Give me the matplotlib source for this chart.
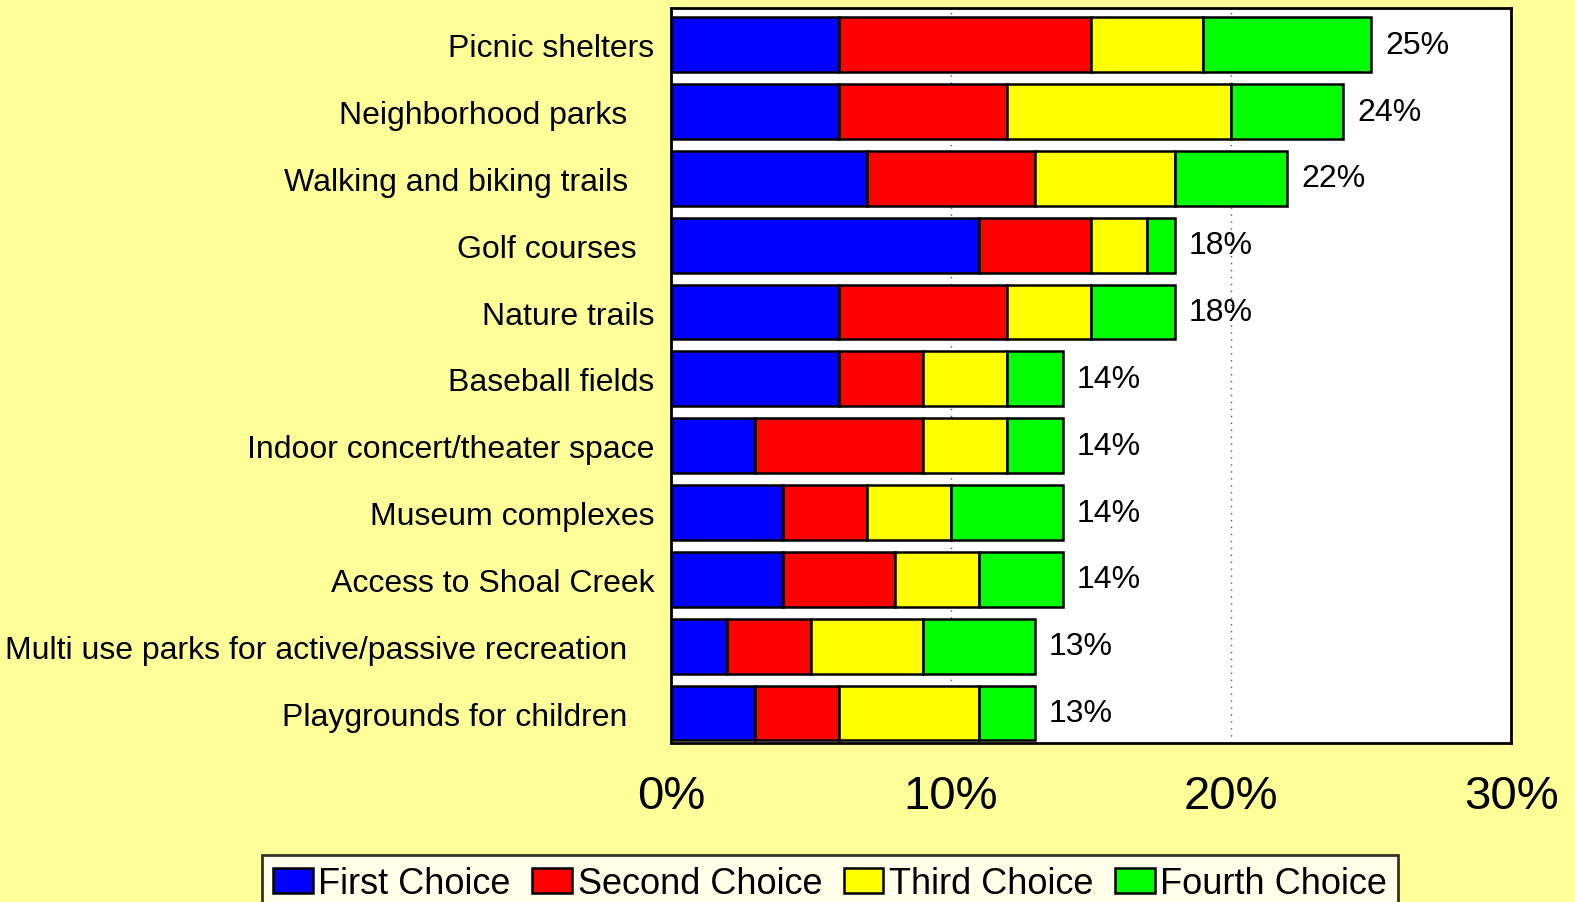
import matplotlib.pyplot as plt
import numpy as np

plt.rcParams['font.family'] = ['Liberation Sans', 'DejaVu Sans']

# categories top to bottom (trailing spaces mimic the original label offsets)
categories = ['Picnic shelters', 'Neighborhood parks   ', 'Walking and biking trails   ',
              'Golf courses  ', 'Nature trails', 'Baseball fields',
              'Indoor concert/theater space', 'Museum complexes', 'Access to Shoal Creek',
              'Multi use parks for active/passive recreation   ', 'Playgrounds for children   ']
first = [6, 6, 7, 11, 6, 6, 3, 4, 4, 2, 3]
second = [9, 6, 6, 4, 6, 3, 6, 3, 4, 3, 3]
third = [4, 8, 5, 2, 3, 3, 3, 3, 3, 4, 5]
fourth = [6, 4, 4, 1, 3, 2, 2, 4, 3, 4, 2]
totals = [25, 24, 22, 18, 18, 14, 14, 14, 14, 13, 13]

series = [first, second, third, fourth]
names = ['First Choice', 'Second Choice', 'Third Choice', 'Fourth Choice']
colors = ['#0000FF', '#FF0000', '#FFFF00', '#00FF00']

bg = '#FFFF99'
fig = plt.figure(figsize=(15.75, 9.03), dpi=100, facecolor=bg)
ax = fig.add_axes([0.426, 0.176, 0.5334, 0.814])
ax.set_facecolor('white')

y = np.arange(len(categories))
left = np.zeros(len(categories))
for vals, name, c in zip(series, names, colors):
    ax.barh(y, vals, left=left, height=0.82, color=c, edgecolor='black',
            linewidth=1.8, label=name, zorder=3)
    left += np.array(vals)

for yi, t in zip(y, totals):
    ax.text(t + 0.5, yi, f'{t}%', va='center', ha='left', fontsize=23, zorder=4)

ax.set_xlim(0, 30)
ax.set_ylim(len(categories) - 0.55, -0.55)
ax.set_xticks([0, 10, 20, 30])
ax.set_xticklabels(['0%', '10%', '20%', '30%'], fontsize=34)
ax.set_yticks(y)
ax.set_yticklabels(categories, fontsize=23)
ax.tick_params(axis='y', length=0, pad=12)
ax.tick_params(axis='x', length=0, pad=22)
ax.grid(axis='x', linestyle=(0, (1, 4)), color='#555555', linewidth=1, zorder=0)
for s in ax.spines.values():
    s.set_linewidth(2)
    s.set_color('black')

leg = fig.legend(loc='upper center', bbox_to_anchor=(0.527, 0.052), ncol=4,
                 fontsize=26, frameon=True, fancybox=False, edgecolor='black',
                 handlelength=1.1, handleheight=0.7, handletextpad=0.15,
                 columnspacing=0.6, borderpad=0.3, borderaxespad=0)
leg.get_frame().set_linewidth(2)
leg.get_frame().set_facecolor('white')

fig.savefig('out.png', dpi=100, facecolor=bg)
